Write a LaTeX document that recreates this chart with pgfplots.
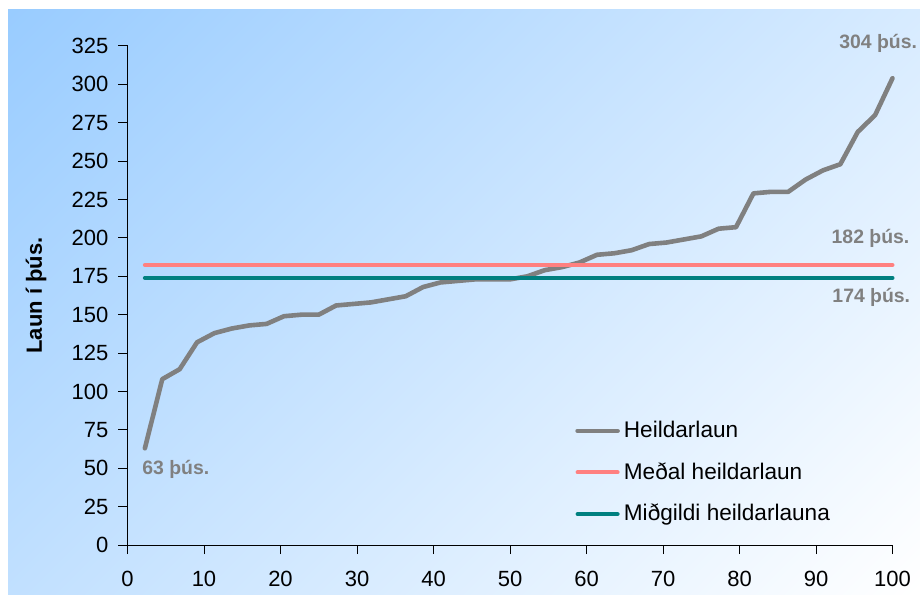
\documentclass[border=0pt]{standalone}
\usepackage{fontspec}
\setmainfont{Liberation Sans}
\usepackage{pgfplots}
\pgfplotsset{compat=1.18}
\definecolor{bgblue}{RGB}{153,204,255}
\definecolor{bgwhite}{RGB}{255,255,255}
\definecolor{heild}{RGB}{128,128,128}
\definecolor{medal}{RGB}{255,128,128}
\definecolor{midg}{RGB}{0,128,128}
% skáhalli frá efra vinstra horni niður í neðra hægra horn
\pgfdeclareverticalshading{bgshade}{100bp}{color(0bp)=(bgwhite); color(14.64bp)=(bgwhite); color(85.36bp)=(bgblue); color(100bp)=(bgblue)}

\pgfplotstableread{
x y
2.273 63
4.545 108
6.818 114.5
9.091 132
11.364 138
13.636 141
15.909 143
18.182 144
20.455 149
22.727 150
25 150
27.273 156
29.545 157
31.818 158
34.091 160
36.364 162
38.636 168
40.909 171
43.182 172
45.455 173
47.727 173
50 173
52.273 175
54.545 179
56.818 181
59.091 184
61.364 189
63.636 190
65.909 192
68.182 196
70.455 197
72.727 199
75 201
77.273 206
79.545 207
81.818 229
84.091 230
86.364 230
88.636 238
90.909 244
93.182 248
95.455 269
97.727 280
100 304
}\heildarlaun

\begin{document}
\begin{tikzpicture}[x=1pt,y=1pt]
% bakgrunnur
\fill[white] (0,0) rectangle (460,297);
\shade[shading=bgshade, shading angle=45] (4,0) rectangle (460,292);
\begin{axis}[
    at={(63.75pt,24.5pt)}, anchor=south west,
    scale only axis, width=382.5pt, height=249.5pt,
    xmin=0, xmax=100, ymin=0, ymax=325,
    xtick={0,10,...,100}, ytick={0,25,...,325},
    axis x line=bottom, axis y line=left,
    axis line style={-, line width=0.5pt},
    tick align=outside, major tick length=4.5pt,
    tick style={line width=0.5pt, black},
    /pgf/number format/assume math mode=true,
    ticklabel style={font=\fontsize{11}{13}\selectfont},
    xticklabel style={yshift=-5pt},
    yticklabel style={xshift=-1.5pt},
    ylabel={Laun í þús.},
    every axis y label/.style={at={(axis description cs:-0.1196,0.5)}, rotate=90, anchor=center,
      font=\bfseries\fontsize{11}{13}\selectfont},
    clip=false,
    legend cell align=left,
    legend style={at={(0.577,0.265)}, anchor=north west, draw=none, fill=none,
      font=\fontsize{11.3}{13}\selectfont, row sep=7pt,
      /tikz/every even column/.append style={column sep=0pt}},
    legend image code/.code={\draw[#1] (0pt,0pt) -- (20pt,0pt);},
  ]
  \addplot[heild, line width=2.3pt, line cap=round, line join=round] table[x=x,y=y] {\heildarlaun};
  \addlegendentry{Heildarlaun}
  \addplot[medal, line width=2pt, line cap=round] coordinates {(2.273,182.35) (100,182.35)};
  \addlegendentry{Meðal heildarlaun}
  \addplot[midg, line width=2pt, line cap=round] coordinates {(2.273,174) (100,174)};
  \addlegendentry{Miðgildi heildarlauna}
  \begin{scope}[every node/.style={text=heild, font=\bfseries\fontsize{9.7}{11}\selectfont, anchor=west, inner sep=0pt}]
    \node at (axis cs:1.9,49) {63 þús.};
    \node at (axis cs:93,327) {304 þús.};
    \node at (axis cs:92,200) {182 þús.};
    \node at (axis cs:92.1,161) {174 þús.};
  \end{scope}
\end{axis}
\pgfresetboundingbox
\useasboundingbox (0,0) rectangle (460,297);
\end{tikzpicture}
\end{document}
